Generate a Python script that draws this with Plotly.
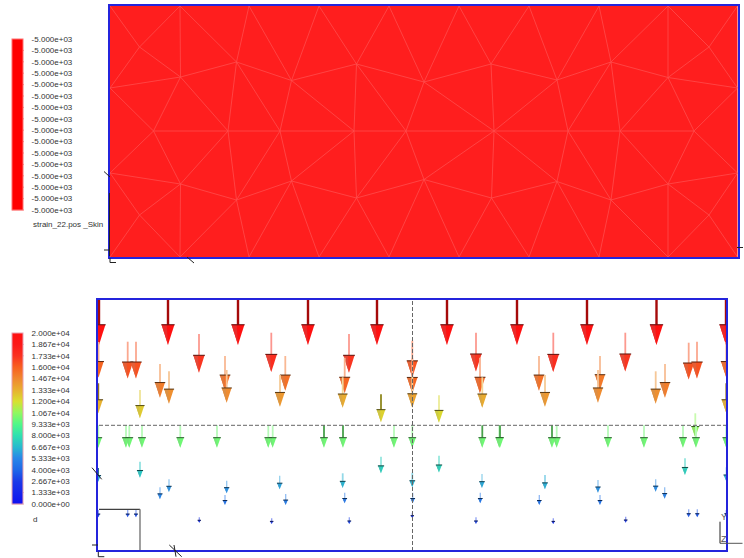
import numpy as np
import plotly.graph_objects as go

# ---------- data ----------
top_legend_labels = ["-5.000e+03"] * 16
bottom_legend_labels = ["2.000e+04", "1.867e+04", "1.733e+04", "1.600e+04", "1.467e+04", "1.333e+04",
                        "1.200e+04", "1.067e+04", "9.333e+03", "8.000e+03", "6.667e+03", "5.333e+03",
                        "4.000e+03", "2.667e+03", "1.333e+03", "0.000e+00"]
top_title = "strain_22.pos _Skin"
bottom_title = "d"

# mesh nodes (model x, model y)
mesh_nodes = {
    "T0": (0, 251), "T1": (70, 251), "T2": (139, 251), "T3": (209, 251), "T4": (279, 251),
    "T5": (349, 251), "T6": (419, 251), "T7": (489, 251), "T8": (558, 251), "T9": (627.5, 251),
    "B0": (0, 0), "B1": (70, 0), "B2": (139, 0), "B3": (209, 0), "B4": (279, 0),
    "B5": (349, 0), "B6": (419, 0), "B7": (489, 0), "B8": (558, 0), "B9": (627.5, 0),
    "L1": (0, 169), "L2": (0, 84), "R1": (627.5, 169), "R2": (627.5, 84), "R3": (627.5, 0),
    "a": (29.5, 210), "b": (70.5, 180), "c": (126.5, 195), "d": (181.5, 176.5), "e": (246.5, 193),
    "f": (43.5, 126), "g": (118, 126), "h": (170, 126), "i": (244, 126),
    "j": (70.5, 73), "k": (126.5, 57), "l": (181.5, 76), "m": (246.5, 59), "n": (29.5, 42),
    "o": (314, 175), "p": (381, 193), "q": (447, 177), "r": (501, 195), "s": (558, 179.5), "t": (599, 210),
    "u": (296, 126), "v": (384, 126), "w": (458, 126), "x": (510, 126), "y": (584, 126),
    "z": (314, 77.5), "aa": (381.5, 59), "ab": (447, 75.5), "ac": (501, 57), "ad": (558, 73), "ae": (599, 42),
}
mesh_edges = """T0-a T1-a T1-b a-b a-L1 b-L1 T1-c T2-c c-b T2-d T3-d T3-e c-d d-e b-f b-g c-g c-h d-h d-i e-i
L1-f f-g g-h h-i L2-f f-j g-j g-k h-k h-l i-l L2-j j-k k-l l-m L2-n j-n j-B1 k-B1 k-B2 l-B2 l-B3 m-B3 n-B0 n-B1 i-m
e-o T4-e T4-o T5-o T5-p T6-p T6-q T7-q T7-r T8-r T8-s T8-t s-t T9-t t-R1 s-R1 o-p p-q q-r r-s o-u o-v e-u p-v q-v q-w
r-w r-x s-x s-y R1-y i-u u-v v-w w-x x-y y-R2 y-ad x-ad x-ac w-ac w-ab v-ab v-z v-aa u-z u-m m-z z-aa aa-ab ab-ac ac-ad
ad-R2 ad-ae ae-R2 ae-R3 ae-B8 ad-B8 ac-B8 ac-B7 ab-B7 ab-B6 aa-B6 aa-B5 z-B5 z-B4 m-B4""".split()

# nodal arrows: model x, model y of the arrow base, magnitude
arrow_x = [1, 70, 140, 210, 279, 349, 419, 489, 558.5, 628,
           0.5, 29.7, 38, 101, 62, 71, 127, 128.7, 0.3, 42,
           0.3, 28, 31.3, 44, 82.3, 119,
           42, 0.3, 71, 62, 128.7, 127, 0.3, 29.7, 38, 101.3,
           173.3, 187.3, 182, 251, 246.7, 244.7, 314.3, 314.3, 314.3, 378, 382, 384.3, 283, 341,
           170.3, 174.7, 226, 245, 296, 314.3, 384.3, 401.3,
           283, 341, 181.7, 244.7, 314.3, 384, 187.7, 246.7, 314.7, 382.3,
           173.7, 251.3, 314.3, 378,
           441, 455.3, 447, 502, 500, 527.3, 557.7, 567, 590.7, 599, 628.3, 628.3, 597.3,
           402, 454, 458.7, 510, 546, 585, 598, 628.3,
           587, 628.3, 447, 500, 557.7, 566.7, 441.3, 502, 590.7, 599.3, 628.3, 455.3, 527.7]
arrow_y = [250, 250, 250, 250, 250, 250, 250, 250, 250, 250,
           208, 208.3, 208.3, 216, 186, 178.7, 194, 180, 166.7, 160,
           124.7, 124.7, 124.7, 124.7, 124.7, 124.7,
           88.3, 82, 70.7, 62.7, 69.3, 55, 40, 40, 40, 32.7,
           217.3, 194, 175, 216, 192.3, 172.7, 209.3, 192, 173.3, 217.3, 192.3, 172.7, 155.7, 154.7,
           124.7, 124.7, 124.7, 124.7, 124.7, 124.7, 124.7, 124.7,
           93.3, 94.3, 74.3, 76.7, 77.3, 76, 56, 57.3, 57.3, 57.3,
           31.7, 32.7, 37.3, 32.7,
           194, 217.3, 175, 194, 180, 217.3, 178.7, 186, 207.3, 208.3, 208, 166.7, 136.7,
           124.7, 124.7, 124.7, 124.7, 124.7, 124.7, 124.7, 124.7,
           91.7, 82.7, 75, 70, 70.7, 62.7, 55, 55, 40.7, 40.7, 40, 31.7, 33.3]
arrow_val = [20000, 20000, 20000, 20000, 20000, 20000, 20000, 20000, 20000, 20000,
             15800, 16400, 16400, 17200, 15000, 14400, 15400, 14500, 13300, 12600,
             10000, 10000, 10000, 10000, 10000, 10000,
             7100, 6100, 5650, 5300, 5600, 4450, 3250, 3250, 3250, 2400,
             17500, 15400, 14100, 17200, 15800, 13500, 16300, 15700, 13800, 17200, 15800, 13500, 12400, 12200,
             10000, 10000, 10000, 10000, 10000, 10000, 10000, 10000,
             7400, 7500, 6050, 6500, 6500, 6200, 4900, 4700, 4700, 4700,
             2500, 2950, 2400, 2950,
             15400, 17500, 14100, 15100, 14500, 17200, 14400, 15000, 16400, 16400, 15800, 13300, 10700,
             10000, 10000, 10000, 10000, 10000, 10000, 10000, 10000,
             7400, 6200, 6350, 5650, 5500, 5050, 4450, 4450, 3550, 3550, 3000, 2500, 2650]
dark_shafts = [(226, 124.7), (245, 124.7), (384.3, 124.7), (402, 124.7), (454, 124.7),
               (0.3, 166.7), (628.3, 166.7), (0.3, 82), (628.3, 82), (283, 155.7)]

# colour ramp of the lower legend
ramp = [[0, "#1010f0"], [0.13, "#1c38e8"], [0.2, "#2068e8"], [0.27, "#2888e8"], [0.33, "#28b8d0"],
        [0.4, "#30e0b0"], [0.467, "#50f888"], [0.533, "#90f860"], [0.6, "#d8e030"], [0.667, "#e8b030"],
        [0.733, "#f08830"], [0.8, "#f86020"], [0.867, "#fa3020"], [0.933, "#fc1818"], [1, "#ff1010"]]

# ---------- layout helpers ----------
W, H = 744, 558
VMAX = 20000.0
PX_PER_UNIT = 45.0 / VMAX


def px(x, y):
    return x / W, 1 - y / H


fig = go.Figure()


def paper_line(x0, y0, x1, y1, color="#000000", width=1, dash=None):
    a, b = px(x0, y0)
    c, d = px(x1, y1)
    fig.add_shape(type="line", xref="paper", yref="paper", x0=a, y0=b, x1=c, y1=d,
                  line=dict(color=color, width=width, dash=dash), layer="above")


def ramp_color(t):
    stops = [s[0] for s in ramp]
    chans = [[int(s[1][i:i + 2], 16) for s in ramp] for i in (1, 3, 5)]
    return np.array([np.interp(t, stops, c) for c in chans])


def rgb(c):
    return "rgb(%d,%d,%d)" % tuple(int(v) for v in np.clip(c, 0, 255))


# ---------- top panel ----------
ex, ey = [], []
for e in mesh_edges:
    p, q = e.split("-")
    ex += [mesh_nodes[p][0], mesh_nodes[q][0], None]
    ey += [mesh_nodes[p][1], mesh_nodes[q][1], None]
fig.add_trace(go.Scatter(x=ex, y=ey, mode="lines", line=dict(color="#ff4c4c", width=0.8),
                         hoverinfo="skip", xaxis="x", yaxis="y", showlegend=False))

positions = list(range(len(top_legend_labels)))
node_keys = list(mesh_nodes)[:16]
fig.add_trace(go.Scatter(
    x=[mesh_nodes[k][0] for k in node_keys], y=[mesh_nodes[k][1] for k in node_keys],
    mode="markers", xaxis="x", yaxis="y", showlegend=False, hoverinfo="skip",
    marker=dict(size=1, opacity=0, color=positions, cmin=0, cmax=15,
                colorscale=[[0, "#ff0000"], [1, "#ff0000"]], showscale=True,
                colorbar=dict(lenmode="pixels", len=171, thicknessmode="pixels", thickness=11,
                              x=12 / W, xanchor="left", y=1 - 124.5 / H, yanchor="middle",
                              xpad=0, ypad=0, outlinecolor="#ff7070", outlinewidth=1,
                              tickmode="array", tickvals=positions[::-1], ticktext=top_legend_labels,
                              ticks="outside", ticklen=7, tickcolor="rgba(0,0,0,0)",
                              tickfont=dict(family="Liberation Sans", size=8, color="#333333")))))

# ---------- bottom panel ----------
for xb, yb, v in zip(arrow_x, arrow_y, arrow_val):
    L = v * PX_PER_UNIT
    head = 0.45 * L
    hw = (0.25 * L + 1.5) / 2
    arr = ramp_color(v / VMAX)
    dark = arr * 0.62
    shade = arr * 0.8 + 30
    top_row = v >= VMAX
    is_dark = top_row or (xb, yb) in dark_shafts
    shaft = arr * 0.65 if is_dark else arr * 0.5 + 255 * 0.5
    neck = yb - L + head
    tip = yb - L
    fig.add_trace(go.Scatter(x=[xb, xb], y=[yb, neck], mode="lines", hoverinfo="skip",
                             line=dict(color=rgb(shaft), width=2.4 if top_row else 1.8 if L > 14 else 1.3),
                             xaxis="x2", yaxis="y2", showlegend=False))
    fig.add_trace(go.Scatter(x=[xb - hw, xb + hw, xb, xb - hw], y=[neck, neck, tip, neck], mode="lines",
                             fill="toself", fillcolor=rgb(arr), line=dict(width=0), hoverinfo="skip",
                             xaxis="x2", yaxis="y2", showlegend=False))
    fig.add_trace(go.Scatter(x=[xb - hw, xb - hw * 0.2, xb, xb - hw], y=[neck, neck, tip, neck], mode="lines",
                             fill="toself", fillcolor=rgb(shade), line=dict(width=0),
                             hoverinfo="skip", xaxis="x2", yaxis="y2", showlegend=False))
    fig.add_trace(go.Scatter(x=[xb - hw - 0.3, xb + hw + 0.3], y=[neck, neck], mode="lines",
                             line=dict(color=rgb(dark * 0.6), width=1), hoverinfo="skip",
                             xaxis="x2", yaxis="y2", showlegend=False))

legend_values = [float(t) for t in bottom_legend_labels]
fig.add_trace(go.Scatter(
    x=arrow_x, y=arrow_y, mode="markers", xaxis="x2", yaxis="y2", showlegend=False, hoverinfo="skip",
    marker=dict(size=1, opacity=0, color=arrow_val, cmin=0, cmax=VMAX, colorscale=ramp, showscale=True,
                colorbar=dict(lenmode="pixels", len=171, thicknessmode="pixels", thickness=11,
                              x=12 / W, xanchor="left", y=1 - 418.5 / H, yanchor="middle",
                              xpad=0, ypad=0, outlinecolor="#e8a0b0", outlinewidth=1,
                              tickmode="array", tickvals=legend_values, ticktext=bottom_legend_labels,
                              ticks="outside", ticklen=7, tickcolor="rgba(0,0,0,0)",
                              tickfont=dict(family="Liberation Sans", size=8, color="#333333")))))

# legend band lines, as drawn on the colour bars
for i in range(15):
    y0 = 39 + i * 11.4
    paper_line(12, y0 + 11.4, 23.5, y0 + 11.4, "#ff6060", 0.6)
    paper_line(12, y0, 23.5, y0 + 11.4, "#e01010", 0.6)
for i in (0, 1, 13, 14):
    y0 = 333 + i * 11.4
    paper_line(12, y0 + 11.4, 23.5, y0 + 11.4, "#a04060", 0.4)
    paper_line(12, y0, 23.5, y0 + 11.4, "#a04060", 0.4)

# guide lines
paper_line(99, 425.3, 726, 425.3, "#666666", 1, "4px,2px")
paper_line(412.5, 301, 412.5, 550, "#666666", 1, "4px,2px")
paper_line(99, 509.3, 140, 509.3, "#111111", 1)
paper_line(140, 509.3, 140, 550, "#777777", 1.4)

# scene axis ticks
for seg in [(104, 171.5, 110, 177), (104, 250, 110, 250), (109.5, 193, 109.5, 256),
            (110, 258, 110, 262.5), (110, 262.5, 116, 262.5), (187, 257, 194, 263),
            (737, 247.5, 743, 247.5),
            (92, 467.7, 101.7, 479.3), (92, 545, 98, 545), (98.3, 551.7, 98.3, 556.7), (98.3, 556.7, 104.3, 556.7),
            (169.3, 545, 181.7, 556.7), (174, 545, 176, 556.7),
            (720, 521.7, 720, 543.3)]:
    paper_line(*seg, color="#222222", width=1)
paper_line(720, 543.3, 742.5, 543.3, "#555555", 1)


def label(text, x, y, size=8, color="#333333"):
    a, b = px(x, y)
    fig.add_annotation(text=text, x=a, y=b, xref="paper", yref="paper", showarrow=False,
                       xanchor="left", yanchor="middle", borderpad=0,
                       font=dict(family="Liberation Sans", size=size, color=color))


label(top_title, 32, 224.5)
label(bottom_title, 32, 519)
label("Y", 720, 516.5, 9, "#555555")
label("Z", 720, 539, 9, "#555555")

blue = "#2424dc"
axis_common = dict(showgrid=False, zeroline=False, showticklabels=False, ticks="", showline=True,
                   mirror=True, linecolor=blue, linewidth=1.5)
fig.update_layout(
    width=W, height=H, margin=dict(l=0, r=0, t=0, b=0), autosize=False,
    paper_bgcolor="white", plot_bgcolor="white", showlegend=False,
    xaxis=dict(domain=[110 / W, 737.5 / W], range=[0, 627.5], anchor="y", **axis_common),
    yaxis=dict(domain=[1 - 257 / H, 1 - 6 / H], range=[0, 251], anchor="x", **axis_common),
    xaxis2=dict(domain=[98 / W, 726 / W], range=[0, 628], anchor="y2", **axis_common),
    yaxis2=dict(domain=[1 - 550 / H, 1 - 300 / H], range=[0, 250], anchor="x2", **axis_common),
)
# top panel background is the uniform strain colour
a0, b0 = px(110, 257)
a1, b1 = px(737.5, 6)
fig.add_shape(type="rect", xref="paper", yref="paper", x0=a0, y0=b0, x1=a1, y1=b1,
              fillcolor="#ff1e1e", line=dict(width=0), layer="below")

fig.write_html("out.html", config={"displayModeBar": False},
               post_script="document.body.style.margin='0';document.documentElement.style.overflow='hidden';")
